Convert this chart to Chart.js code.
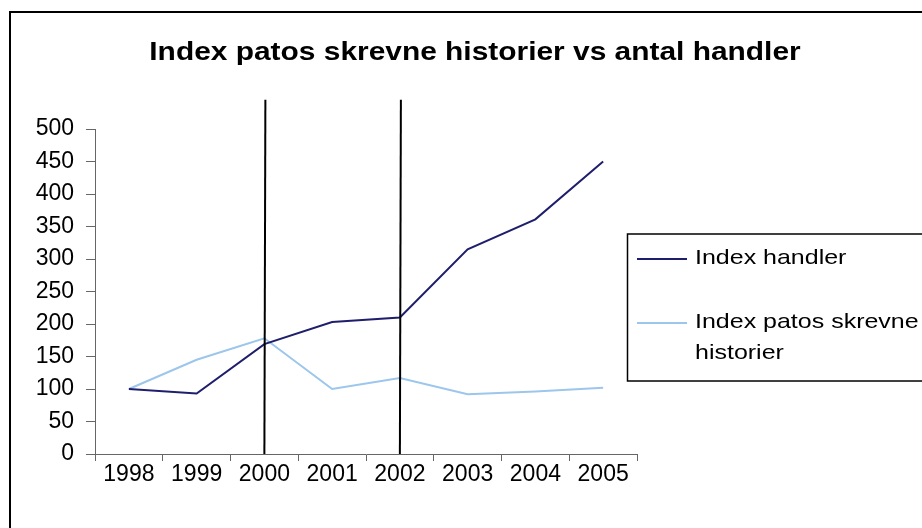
<!DOCTYPE html>
<html>
<head>
<meta charset="utf-8">
<script src="https://cdn.jsdelivr.net/npm/chart.js@4/dist/chart.umd.min.js"></script>
<style>
html,body{margin:0;padding:0;background:#fff;}
#wrap{width:922px;height:528px;position:relative;}
</style>
</head>
<body>
<div id="wrap"><canvas id="c" width="922" height="528"></canvas></div>
<script>
// ---- data ----
const years = ['1998','1999','2000','2001','2002','2003','2004','2005'];
const indexHandler = [100, 93, 169, 203, 210, 315, 361, 450];
const indexPatos = [100, 145, 178, 100, 117, 92, 96, 102];
const seriesNames = ['Index handler', 'Index patos skrevne historier'];
const markerYears = ['2000', '2002'];
const markerTop = 545;
const yTicks = [0, 50, 100, 150, 200, 250, 300, 350, 400, 450, 500];
const titleText = 'Index patos skrevne historier vs antal handler';

const darkColor = '#1e1e6c';
const lightColor = '#9cc6ec';
const FONT = "'Liberation Sans', Arial, sans-serif";

const overlay = {
  id: 'overlay',
  afterDatasetsDraw(chart) {
    const ctx = chart.ctx;
    const xs = chart.scales.x, ys = chart.scales.y;
    ctx.save();
    ctx.strokeStyle = '#000';
    ctx.lineWidth = 2;
    markerYears.forEach(yr => {
      const px = xs.getPixelForValue(years.indexOf(yr));
      ctx.beginPath();
      ctx.moveTo(px + 1, ys.getPixelForValue(markerTop));
      ctx.lineTo(px, ys.getPixelForValue(0));
      ctx.stroke();
    });
    ctx.restore();
  },
  afterDraw(chart) {
    const ctx = chart.ctx;
    ctx.save();
    // outer frame
    ctx.strokeStyle = '#000';
    ctx.lineWidth = 2;
    ctx.beginPath();
    ctx.moveTo(10, 528);
    ctx.lineTo(10, 12);
    ctx.lineTo(922, 12);
    ctx.stroke();

    // title
    ctx.fillStyle = '#000';
    ctx.save();
    ctx.translate(475, 53);
    ctx.scale(1.15, 1);
    ctx.font = 'bold 26px ' + FONT;
    ctx.textAlign = 'center';
    ctx.textBaseline = 'middle';
    ctx.fillText(titleText, 0, 0);
    ctx.restore();

    // legend
    ctx.strokeStyle = '#000';
    ctx.lineWidth = 1.5;
    ctx.strokeRect(627.5, 234, 400, 147);
    const items = [
      {lines: [seriesNames[0]], color: darkColor, y: 259},
      {lines: ['Index patos skrevne', 'historier'], color: lightColor, y: 323}
    ];
    items.forEach(it => {
      ctx.strokeStyle = it.color;
      ctx.lineWidth = 2;
      ctx.beginPath();
      ctx.moveTo(637, it.y);
      ctx.lineTo(687, it.y);
      ctx.stroke();
      it.lines.forEach((t, i) => {
        ctx.save();
        ctx.translate(695, it.y + 5 + i * 31);
        ctx.scale(1.19, 1);
        ctx.font = '21px ' + FONT;
        ctx.fillStyle = '#000';
        ctx.textAlign = 'left';
        ctx.textBaseline = 'alphabetic';
        ctx.fillText(t, 0, 0);
        ctx.restore();
      });
    });
    ctx.restore();
  }
};

new Chart(document.getElementById('c'), {
  type: 'line',
  data: {
    labels: years,
    datasets: [
      {label: seriesNames[0], data: indexHandler, borderColor: darkColor, borderWidth: 2, pointRadius: 0, tension: 0, fill: false},
      {label: seriesNames[1], data: indexPatos, borderColor: lightColor, borderWidth: 2, pointRadius: 0, tension: 0, fill: false}
    ]
  },
  options: {
    responsive: false,
    animation: false,
    events: [],
    layout: {padding: {top: 129, left: 10, right: 285, bottom: 34}},
    plugins: {legend: {display: false}, title: {display: false}, tooltip: {enabled: false}},
    scales: {
      x: {
        type: 'category',
        offset: true,
        grid: {offset: true, drawOnChartArea: false, drawTicks: true, tickLength: 7, color: '#666', lineWidth: 1},
        border: {display: true, color: '#666', width: 1},
        ticks: {color: '#000', font: {family: FONT, size: 23}, padding: 0, maxRotation: 0, autoSkip: false},
        afterFit: s => { s.height = 40; }
      },
      y: {
        min: 0, max: 500,
        afterBuildTicks: s => { s.ticks = yTicks.map(v => ({value: v})); },
        grid: {drawOnChartArea: false, drawTicks: true, tickLength: 9, color: '#666', lineWidth: 1},
        border: {display: true, color: '#666', width: 1},
        ticks: {color: '#000', font: {family: FONT, size: 23}, padding: 12},
        afterFit: s => { s.width = 85; }
      }
    }
  },
  plugins: [overlay]
});
</script>
</body>
</html>
